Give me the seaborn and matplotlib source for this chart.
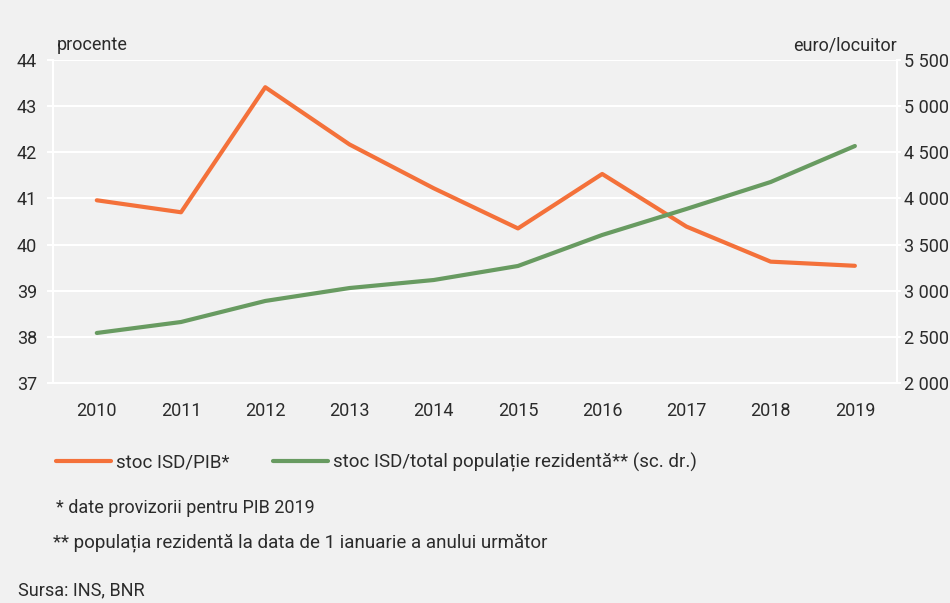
import numpy as np
import pandas as pd
import seaborn as sns
import matplotlib.pyplot as plt
from matplotlib.lines import Line2D
from matplotlib.ticker import FuncFormatter, MultipleLocator

years = ["2010", "2011", "2012", "2013", "2014", "2015", "2016", "2017", "2018", "2019"]
isd_pib = [40.96, 40.70, 43.41, 42.17, 41.22, 40.35, 41.53, 40.39, 39.63, 39.54]
isd_per_capita = [2542, 2661, 2889, 3029, 3116, 3268, 3604, 3886, 4178, 4568]

ORANGE = "#f4713a"
GREEN = "#689b61"
BG = "#f1f1f1"
TXT = "#2b2b2b"

sns.set_theme(style="white")
plt.rcParams["font.family"] = ["Roboto", "DejaVu Sans"]

df = pd.DataFrame({"an": years, "pib": isd_pib, "pop": isd_per_capita})
df["x"] = np.arange(len(years))

fig = plt.figure(figsize=(9.5, 6.03), dpi=100, facecolor=BG)
ax = fig.add_axes([53 / 950, 1 - 383 / 603, 844 / 950, 323 / 603])
ax.set_facecolor(BG)
ax2 = ax.twinx()

sns.lineplot(data=df, x="x", y="pib", ax=ax, color=ORANGE, linewidth=3.0)
sns.lineplot(data=df, x="x", y="pop", ax=ax2, color=GREEN, linewidth=3.0)

ax.set_xlim(-0.52, 9.5)
ax.set_ylim(37, 44)
ax2.set_ylim(2000, 5500)
ax.set_xticks(df["x"], years)
ax.xaxis.set_minor_locator(MultipleLocator(1, offset=0.5))
ax.yaxis.set_major_locator(MultipleLocator(1))
ax2.yaxis.set_major_locator(MultipleLocator(500))
ax2.yaxis.set_major_formatter(FuncFormatter(lambda v, p: f"{int(v):,}".replace(",", " ")))

ax.grid(axis="y", color="white", linewidth=1.5)
ax.set_axisbelow(True)
for a in (ax, ax2):
    a.set_xlabel("")
    a.set_ylabel("")
    for s in a.spines.values():
        s.set_color("white")
        s.set_linewidth(1.5)
    a.spines["top"].set_visible(False)

ax.tick_params(axis="x", which="major", length=0, pad=14, labelsize=13, labelcolor=TXT)
ax.tick_params(axis="x", which="minor", length=4, color="white", width=1.5)
ax.tick_params(axis="y", length=4, color="white", width=1.5, labelsize=13, labelcolor=TXT, pad=7.5)
ax2.tick_params(axis="y", length=3, color="white", width=1.5, labelsize=13, labelcolor=TXT, pad=2)

fig.text(57 / 950, 1 - 45 / 603, "procente", fontsize=13, color=TXT, va="center")
fig.text(897 / 950, 1 - 45 / 603, "euro/locuitor", fontsize=13, color=TXT, va="center", ha="right")

handles = [
    Line2D([], [], color=ORANGE, linewidth=3.0),
    Line2D([], [], color=GREEN, linewidth=3.0),
]
fig.legend(handles, ["stoc ISD/PIB*", "stoc ISD/total populație rezidentă** (sc. dr.)"],
           loc="center left", bbox_to_anchor=(39 / 950, 1 - 462 / 603), ncol=2,
           frameon=False, fontsize=13.5, handlelength=2.93, handletextpad=0.27,
           columnspacing=2.35, labelcolor=TXT)

fig.text(56 / 950, 1 - 508 / 603, "* date provizorii pentru PIB 2019", fontsize=13, color=TXT, va="center")
fig.text(53 / 950, 1 - 543 / 603, "** populația rezidentă la data de 1 ianuarie a anului următor",
         fontsize=13.5, color=TXT, va="center")
fig.text(18 / 950, 1 - 590 / 603, "Sursa: INS, BNR", fontsize=13, color=TXT, va="center")

fig.savefig("out.png", dpi=100, facecolor=BG)
